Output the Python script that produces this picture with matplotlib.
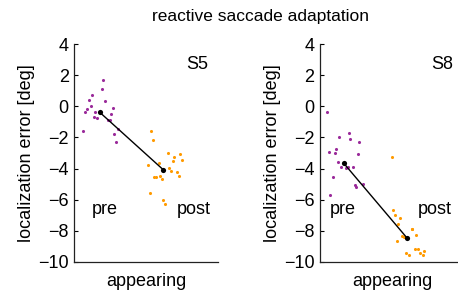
import matplotlib
matplotlib.use("Agg")
import matplotlib.pyplot as plt

plt.rcParams['font.family'] = ['Liberation Sans', 'DejaVu Sans']

title = "reactive saccade adaptation"
ylabel = "localization error [deg]"
xlabel = "appearing"
yticks = [4, 2, 0, -2, -4, -6, -8, -10]

# S5
s5_pre_x = [0.062, 0.074, 0.086, 0.104, 0.116, 0.125, 0.137, 0.146, 0.160, 0.190,
            0.201, 0.213, 0.232, 0.248, 0.255, 0.267, 0.278, 0.288, 0.306]
s5_pre_y = [-1.57, -0.39, -0.17, 0.41, 0.03, 0.72, -0.69, -0.39, -0.77, 1.11,
            1.71, 0.33, -0.88, -0.86, -0.47, -0.08, -1.77, -2.29, -1.47]
s5_post_x = [0.533, 0.544, 0.514, 0.588, 0.653, 0.736, 0.694, 0.683, 0.748, 0.660,
             0.672, 0.715, 0.727, 0.556, 0.567, 0.597, 0.609, 0.524, 0.618, 0.630]
s5_post_y = [-1.57, -2.18, -3.78, -3.67, -2.98, -3.06, -3.28, -3.50, -3.47, -3.97,
             -4.17, -4.25, -4.47, -4.57, -4.57, -4.47, -4.68, -5.55, -6.05, -6.29]
s5_mean_x = [0.178, 0.618]
s5_mean_y = [-0.39, -4.08]

# S8
s8_pre_x = [0.049, 0.060, 0.072, 0.092, 0.101, 0.113, 0.122, 0.134, 0.146, 0.183,
            0.197, 0.201, 0.210, 0.231, 0.241, 0.252, 0.266, 0.273, 0.296]
s8_pre_y = [-0.39, -2.95, -5.68, -4.57, -2.98, -2.76, -3.56, -1.98, -3.89, -3.95,
            -3.89, -1.68, -2.09, -3.89, -5.09, -5.18, -3.08, -2.29, -4.99]
s8_post_x = [0.498, 0.509, 0.521, 0.553, 0.542, 0.533, 0.572, 0.583, 0.637, 0.642,
             0.669, 0.595, 0.616, 0.660, 0.681, 0.697, 0.724, 0.713]
s8_post_y = [-3.28, -6.67, -6.97, -7.17, -7.56, -8.64, -8.36, -8.40, -7.88, -7.88,
             -8.27, -9.46, -9.59, -9.18, -9.18, -9.42, -9.29, -9.56]
s8_mean_x = [0.164, 0.606]
s8_mean_y = [-3.65, -8.49]

purple = "#9a2a9a"
orange = "#ff9a00"
fs = 13

fig = plt.figure(figsize=(4.58, 2.91), dpi=100)
ax1 = fig.add_axes([74.3 / 458, 29.3 / 291, 144 / 458, 217.4 / 291])
ax2 = fig.add_axes([320 / 458, 29.3 / 291, 144 / 458, 217.4 / 291])

panels = [
    (ax1, "S5", s5_pre_x, s5_pre_y, s5_post_x, s5_post_y, s5_mean_x, s5_mean_y,
     (0.93, 0.909), (0.215, 0.833)),
    (ax2, "S8", s8_pre_x, s8_pre_y, s8_post_x, s8_post_y, s8_mean_x, s8_mean_y,
     (0.926, 0.905), (0.158, 0.799)),
]

for ax, name, px, py, qx, qy, mx, my, lab_pos, prepost_x in panels:
    ax.scatter(px, py, s=5, color=purple, linewidths=0, zorder=2)
    ax.scatter(qx, qy, s=5, color=orange, linewidths=0, zorder=2)
    ax.plot(mx, my, color="black", lw=1.0, zorder=3)
    ax.scatter(mx, my, s=14, color="black", linewidths=0, zorder=4)
    ax.set_xlim(0, 1)
    ax.set_ylim(-10, 4)
    ax.set_yticks(yticks)
    ax.set_yticklabels(["\u2212" + str(-t) if t < 0 else str(t) for t in yticks])
    ax.set_xticks([])
    ax.tick_params(axis="y", direction="in", length=3, width=0.8, labelsize=fs, pad=4)
    for s in ("top", "right"):
        ax.spines[s].set_visible(False)
    for s in ("left", "bottom"):
        ax.spines[s].set_linewidth(0.9)
        ax.spines[s].set_color("#222222")
    ax.set_xlabel(xlabel, fontsize=fs, labelpad=8)
    ax.set_ylabel(ylabel, fontsize=fs, labelpad=2)
    ax.text(lab_pos[0], lab_pos[1], name, transform=ax.transAxes, ha="right",
            va="center", fontsize=fs)
    ax.text(prepost_x[0], -6.95, "pre", ha="center", va="baseline", fontsize=fs)
    ax.text(prepost_x[1], -6.95, "post", ha="center", va="baseline", fontsize=fs)
    ax.patch.set_alpha(0)

fig.text(260 / 458, 1 - 17 / 291, title, ha="center", va="center", fontsize=12.5)

fig.savefig("out.png", dpi=100)
